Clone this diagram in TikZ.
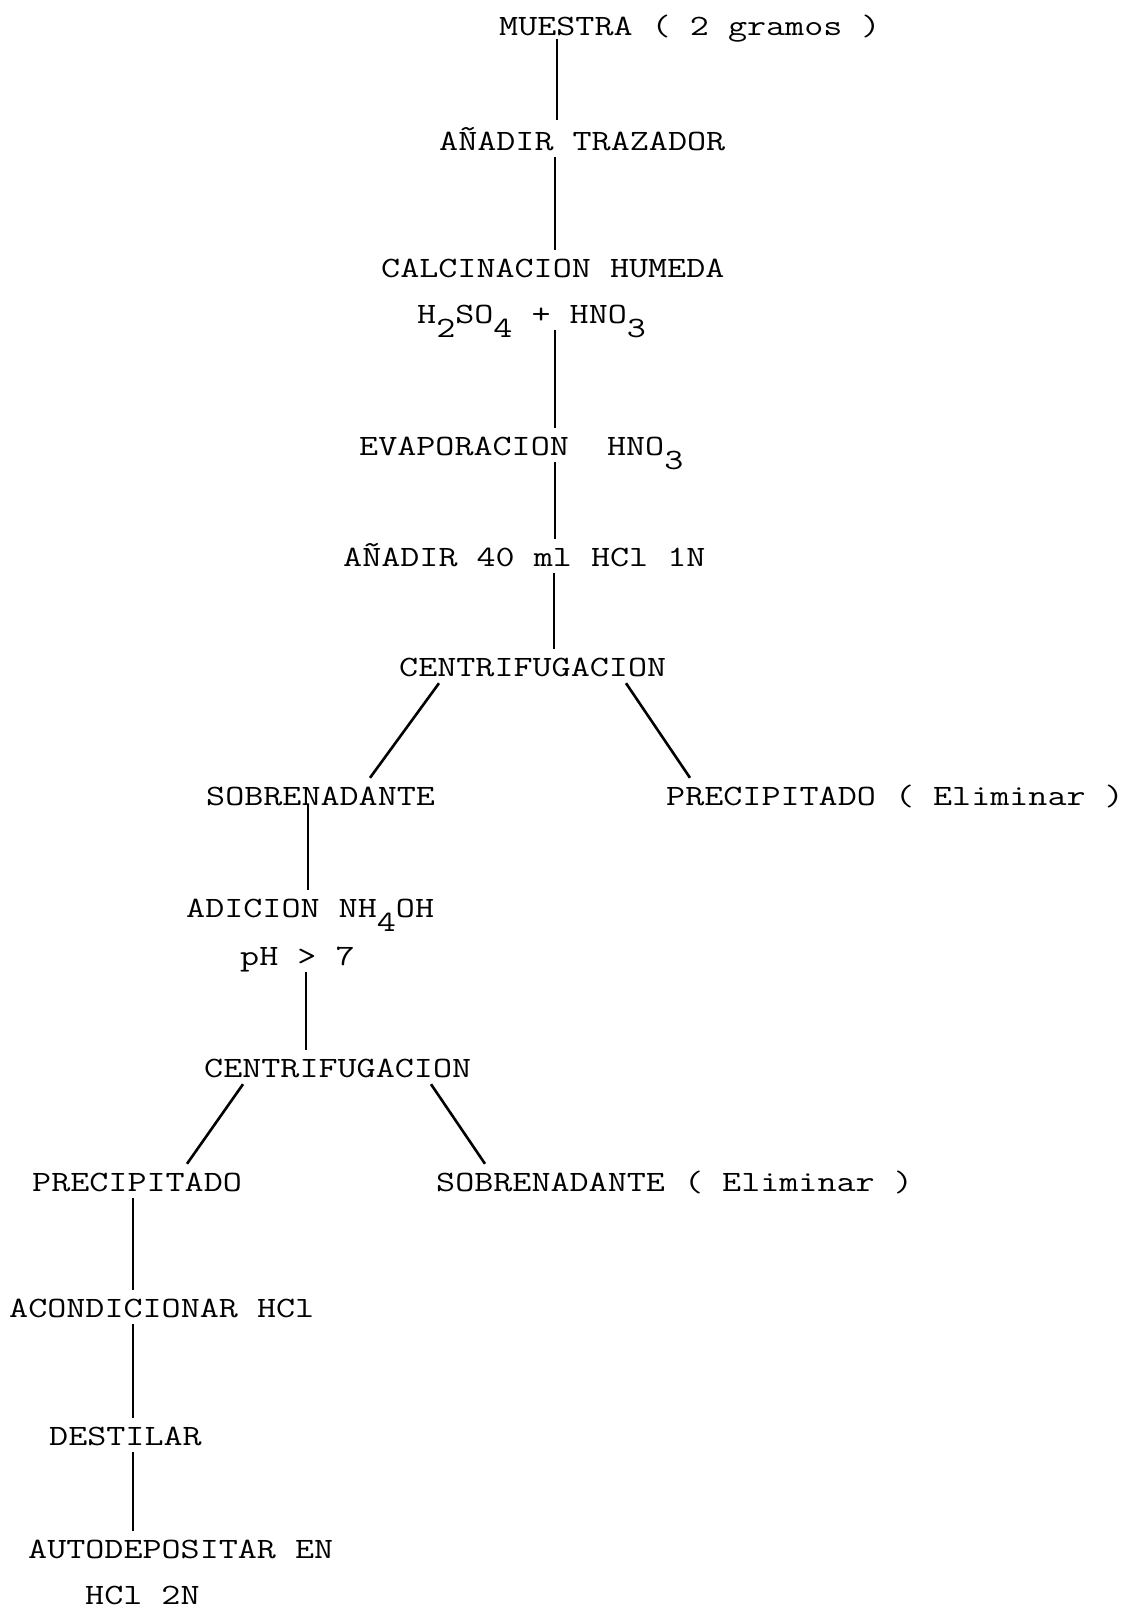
\documentclass[tikz,border=0pt]{standalone}
\usepackage{fontspec}
\usepackage{graphicx}
\usetikzlibrary{calc}
\newcommand{\lowr}[1]{\raisebox{-0.5em}{#1}}
\newcommand{\tw}[1]{\scalebox{1.255}[1]{#1}}
\begin{document}
\begin{tikzpicture}[x=1pt,y=-1pt,
  lbl/.style={anchor=base west,inner sep=1pt,text height=26pt,text depth=6pt,
    font=\ttfamily\fontsize{29.5}{35}\selectfont},
  conn/.style={line width=2.6pt}]
\useasboundingbox (0,0) rectangle (1122,1609);
\node[lbl] (m) at (498,35) {\tw{MUESTRA ( 2 gramos )}};
\node[lbl] (t) at (438,150) {\tw{AÑADIR TRAZADOR}};
\node[lbl] (c) at (380,277) {\tw{CALCINACION HUMEDA}};
\node[lbl] (h) at (416,323) {\tw{H\lowr{2}SO\lowr{4} + HNO\lowr{3}}};
\node[lbl] (e) at (358,455) {\tw{EVAPORACION~~HNO\lowr{3}}};
\node[lbl] (a) at (342,566) {\tw{AÑADIR 40 ml HCl 1N}};
\node[lbl] (c1) at (398,676) {\tw{CENTRIFUGACION}};
\node[lbl] (s1) at (205,805) {\tw{SOBRENADANTE}};
\node[lbl,inner xsep=0pt] (p1) at (666,805) {\tw{PRECIPITADO ( Eliminar )}};
\node[lbl] (ad) at (185,917) {\tw{ADICION NH\lowr{4}OH}};
\node[lbl] (ph) at (239,965) {\tw{pH > 7}};
\node[lbl] (c2) at (203,1077) {\tw{CENTRIFUGACION}};
\node[lbl] (p2) at (31,1191) {\tw{PRECIPITADO}};
\node[lbl] (s2) at (435,1191) {\tw{SOBRENADANTE ( Eliminar )}};
\node[lbl] (ac) at (8,1317) {\tw{ACONDICIONAR HCl}};
\node[lbl] (d) at (48,1445) {\tw{DESTILAR}};
\node[lbl] (au) at (27,1558) {\tw{AUTODEPOSITAR EN}};
\node[lbl,text depth=0pt,inner sep=0pt] (hc) at (85,1604) {\tw{HCl 2N}};
\draw[conn] ($(m.south -| 557,0)+(0,-3)$) -- ($(t.north -| 557,0)+(0,-3)$);
\draw[conn] (t.south -| 555,0) -- (c.north -| 555,0);
\draw[conn] (h.south -| 555,0) -- (e.north -| 555,0);
\draw[conn] (e.south -| 555,0) -- (a.north -| 555,0);
\draw[conn] (a.south -| 554,0) -- (c1.north -| 554,0);
\draw[conn] (c1.south -| 439,0) -- (s1.north -| 370,0);
\draw[conn] (c1.south -| 626,0) -- (p1.north -| 690,0);
\draw[conn] ($(s1.south -| 308,0)+(0,-8)$) -- (ad.north -| 308,0);
\draw[conn] (ph.south -| 306,0) -- (c2.north -| 306,0);
\draw[conn] (c2.south -| 243,0) -- (p2.north -| 187,0);
\draw[conn] (c2.south -| 431,0) -- (s2.north -| 485,0);
\draw[conn] (p2.south -| 133,0) -- (ac.north -| 133,0);
\draw[conn] (ac.south -| 133,0) -- (d.north -| 133,0);
\draw[conn] (d.south -| 133,0) -- (au.north -| 133,0);
\end{tikzpicture}
\end{document}
